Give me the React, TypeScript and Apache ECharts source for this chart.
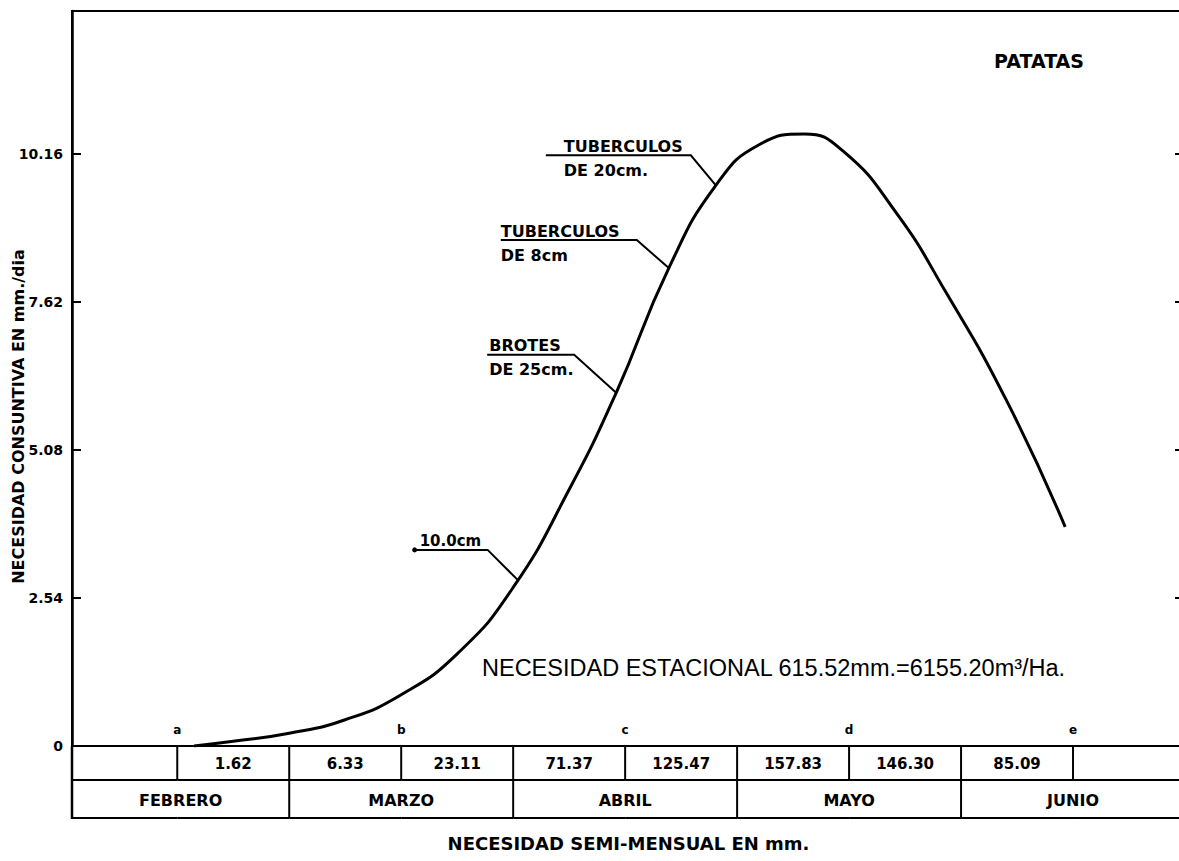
import React, { useEffect, useRef } from 'react';
import * as echarts from 'echarts';

// Semi-monthly water need (mm), one cell per half-month, Feb 1 .. Jul 1
const halfMonthLabels = ['', '1.62', '6.33', '23.11', '71.37', '125.47', '157.83', '146.30', '85.09', ''];
const monthNames = ['FEBRERO', 'MARZO', 'ABRIL', 'MAYO', 'JUNIO'];
const monthStart = [0, 2, 4, 6, 8];
const markerLetters = ['a', 'b', 'c', 'd', 'e'];
const markerPos = [1, 3, 5, 7, 9];
const yTicks = [0, 2.54, 5.08, 7.62, 10.16];

// Consumptive use curve (x in half-months from Feb 1, y in mm/day)
const curveX = [1.15, 1.5, 2.0, 2.5, 3.0, 3.5, 4.0, 4.5, 4.92, 5.39, 5.81, 6.2, 6.6, 6.95, 7.42, 7.86, 8.4, 8.93];
const curveY = [0, 0.08, 0.22, 0.45, 0.88, 1.58, 2.72, 4.4, 6.06, 8.2, 9.62, 10.32, 10.5, 10.2, 9.15, 7.8, 5.95, 3.76];

// Growth-stage notes attached to the curve
const noteX = [5.81, 5.39, 4.92, 4.04];
const noteY = [9.62, 8.2, 6.06, 2.85];
const noteLine1 = ['TUBERCULOS', 'TUBERCULOS', 'BROTES', '10.0cm'];
const noteLine2 = ['DE 20cm.', 'DE 8cm', 'DE 25cm.', ''];

const FONT = '"DejaVu Sans", sans-serif';
// leader geometry: elbow dx, elbow dy, horizontal length, text inset
const NOTE_GEOM = [
  [-25, -30, 145, 18],
  [-32, -28, 136, 0],
  [-42, -38, 87, 2],
  [-30, -30, 73, 5],
];
const ROW1 = 34;
const ROW2 = 72;

function txt(x: number, y: number, text: string, font: string, align = 'center', vAlign = 'middle') {
  return {
    type: 'text',
    x,
    y,
    style: { text, font, fill: '#000', align, verticalAlign: vAlign, textAlign: align, textVerticalAlign: vAlign },
  };
}
function ln(x1: number, y1: number, x2: number, y2: number, w = 2) {
  return { type: 'line', shape: { x1, y1, x2, y2 }, style: { stroke: '#000', lineWidth: w } };
}

export default function App() {
  const ref = useRef<HTMLDivElement>(null);
  useEffect(() => {
    const chart = echarts.init(ref.current!, null, { renderer: 'svg' });
    const option: any = {
      animation: false,
      backgroundColor: '#fff',
      textStyle: { fontFamily: FONT, color: '#000' },
      title: {
        text: 'PATATAS',
        left: 989,
        top: 46,
        textStyle: { fontSize: 19, fontWeight: 'bold', fontFamily: FONT, color: '#000' },
      },
      grid: {
        left: 72, right: -6, top: 11, bottom: 115,
        show: true, borderColor: '#000', borderWidth: 2,
        containLabel: false, outerBoundsMode: 'none',
      },
      xAxis: {
        type: 'value', min: 0.06, max: 10,
        axisLine: { show: true, lineStyle: { color: '#000', width: 2 } },
        axisTick: { show: false }, axisLabel: { show: false }, splitLine: { show: false },
        name: 'NECESIDAD SEMI-MENSUAL EN mm.',
        nameLocation: 'middle', nameGap: 88, nameMoveOverlap: false,
        nameTextStyle: { fontSize: 18, fontWeight: 'bold', fontFamily: FONT, color: '#000' },
      },
      yAxis: [
        {
          type: 'value', min: 0, max: 12.61, interval: 2.54,
          axisLine: { show: true, lineStyle: { color: '#000', width: 2.5 } },
          axisTick: { show: true, inside: true, length: 9, lineStyle: { color: '#000', width: 2 } },
          axisLabel: {
            showMaxLabel: false, margin: 9, fontSize: 14, fontWeight: 'bold', fontFamily: FONT, color: '#000',
            formatter: (v: number) => {
              const t = yTicks.find((k) => Math.abs(k - v) < 1e-6);
              return t === undefined ? '' : t === 0 ? '0' : t.toFixed(2);
            },
          },
          splitLine: { show: false },
          name: 'NECESIDAD CONSUNTIVA EN mm./dia',
          nameLocation: 'middle', nameRotate: 90, nameGap: 46, nameMoveOverlap: false,
          nameTextStyle: { fontSize: 16, fontWeight: 'bold', fontFamily: FONT, color: '#000', padding: [0, 76, 0, 0] },
        },
        {
          type: 'value', position: 'right', min: 0, max: 12.61, interval: 2.54,
          axisLine: { show: true, lineStyle: { color: '#000', width: 2 } },
          axisTick: { show: true, inside: true, length: 10, lineStyle: { color: '#000', width: 2 } },
          axisLabel: { show: false }, splitLine: { show: false },
        },
      ],
      graphic: [
        {
          type: 'text', left: 482, top: 656,
          style: { text: 'NECESIDAD ESTACIONAL 615.52mm.=6155.20m³/Ha.', font: '23.5px "Liberation Sans", sans-serif', fill: '#000' },
        },
      ],
      series: [
        {
          type: 'line',
          data: curveX.map((x, i) => [x, curveY[i]]),
          smooth: 0.5,
          showSymbol: false,
          symbol: 'none',
          lineStyle: { color: '#000', width: 3 },
          z: 5,
        },
        {
          type: 'custom',
          clip: false,
          encode: { x: 0, y: 1 },
          data: halfMonthLabels.map((_, i) => [i, 0]),
          renderItem: (params: any, api: any) => {
            const i = api.value(0);
            const a = api.coord([i, 0]);
            const b = api.coord([i + 1, 0]);
            const cs = params.coordSys;
            const L = cs.x, R = cs.x + cs.width;
            const x0 = Math.max(a[0], L), x1 = Math.min(b[0], R);
            const y0 = a[1];
            const children: any[] = [
              ln(x0, y0 + ROW1, x1, y0 + ROW1),
              ln(x0, y0 + ROW2, x1, y0 + ROW2),
              txt((x0 + x1) / 2, y0 + ROW1 / 2 + 1, halfMonthLabels[params.dataIndex], `bold 15px ${FONT}`),
            ];
            if (b[0] < R - 1) children.push(ln(b[0], y0, b[0], y0 + ROW1));
            return { type: 'group', children };
          },
        },
        {
          type: 'custom',
          clip: false,
          encode: { x: 0, y: 1 },
          data: monthStart.map((s) => [s, 0]),
          renderItem: (params: any, api: any) => {
            const s = api.value(0);
            const a = api.coord([s, 0]);
            const b = api.coord([s + 2, 0]);
            const cs = params.coordSys;
            const L = cs.x, R = cs.x + cs.width;
            const x0 = Math.max(a[0], L), x1 = Math.min(b[0], R);
            const y0 = a[1];
            const children: any[] = [
              txt((x0 + x1) / 2, y0 + (ROW1 + ROW2) / 2 + 1, monthNames[params.dataIndex], `bold 16px ${FONT}`),
            ];
            if (b[0] < R - 1) children.push(ln(b[0], y0 + ROW1, b[0], y0 + ROW2));
            if (params.dataIndex === 0) children.push(ln(L, y0, L, y0 + ROW2 + 1, 2.5));
            return { type: 'group', children };
          },
        },
        {
          type: 'custom',
          clip: false,
          encode: { x: 0, y: 1 },
          data: markerPos.map((p) => [p, 0]),
          renderItem: (params: any, api: any) => {
            const p = api.coord([api.value(0), 0]);
            return txt(p[0], p[1] - 16, markerLetters[params.dataIndex], `bold 12px ${FONT}`);
          },
        },
        {
          type: 'custom',
          clip: false,
          encode: { x: 0, y: 1 },
          data: noteX.map((x, i) => [x, noteY[i]]),
          z: 6,
          renderItem: (params: any, api: any) => {
            const k = params.dataIndex;
            const p = api.coord([api.value(0), api.value(1)]);
            const [dx, dy, len, inset] = NOTE_GEOM[k];
            const ex = p[0] + dx, ey = p[1] + dy;
            const lx = ex - len;
            const children: any[] = [
              {
                type: 'polyline',
                shape: { points: [[lx, ey], [ex, ey], [p[0], p[1]]] },
                style: { stroke: '#000', lineWidth: 2, fill: null },
              },
              txt(lx + inset, ey - 9, noteLine1[k], `bold ${k === 3 ? 15 : 16}px ${FONT}`, 'left'),
            ];
            if (noteLine2[k]) children.push(txt(lx + inset, ey + 15, noteLine2[k], `bold 16px ${FONT}`, 'left'));
            if (k === 3) children.push({ type: 'circle', shape: { cx: lx, cy: ey, r: 2.5 }, style: { fill: '#000' } });
            return { type: 'group', children };
          },
        },
      ],
    };
    chart.setOption(option);
    return () => chart.dispose();
  }, []);
  return (
    <div
      ref={ref}
      style={{ position: 'absolute', left: 0, top: 0, width: 1179, height: 861, background: '#fff' }}
    />
  );
}
